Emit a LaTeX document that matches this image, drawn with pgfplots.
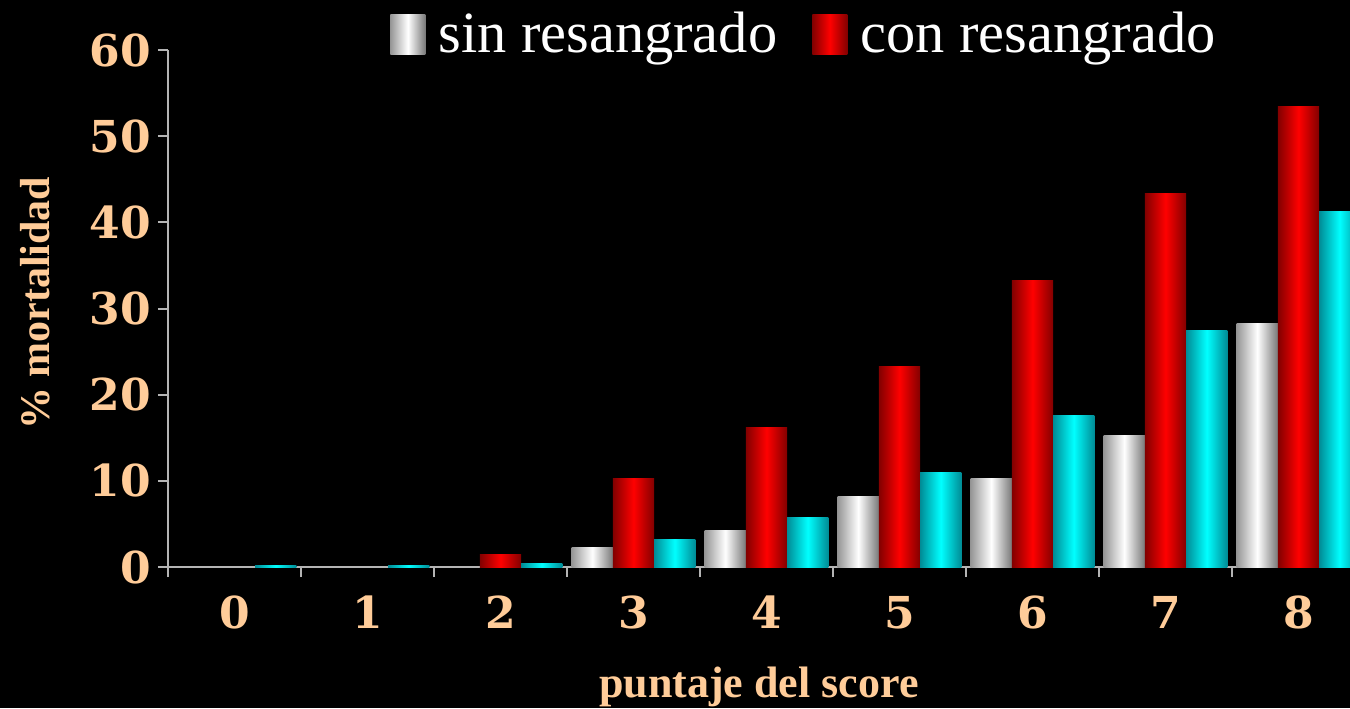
\documentclass[border=0pt]{standalone}
\usepackage{fontspec}
\setmainfont{Liberation Serif}
\newfontfamily\tickfont{DejaVu Serif}
\usepackage{pgfplots}
\pgfplotsset{compat=1.18}
\definecolor{peach}{RGB}{255,204,153}
\definecolor{axgray}{RGB}{180,180,180}
\definecolor{cyanmid}{RGB}{0,255,255}
\definecolor{cyanedge}{RGB}{0,140,150}
\definecolor{redmid}{RGB}{255,0,0}
\definecolor{rededge}{RGB}{130,0,0}
\definecolor{wleft}{RGB}{150,150,150}
\definecolor{wright}{RGB}{120,120,120}
\pgfplotsset{
  whitebar/.style={draw=none, bar shift=-0.31, left color=wleft, right color=wright, middle color=white, forget plot},
  redbar/.style={draw=none, bar shift=0, left color=rededge, right color=rededge, middle color=redmid, forget plot},
  cyanbar/.style={draw=none, bar shift=0.31, left color=cyanedge, right color=cyanedge, middle color=cyanmid, forget plot},
}
\begin{document}
\begin{tikzpicture}
\fill[black] (-84pt,-70.5pt) rectangle (591pt,283.5pt);
\begin{axis}[
  at={(0pt,0pt)}, anchor=south west,
  scale only axis, width=591pt, height=258.5pt,
  xmin=-0.5, xmax=8.387, ymin=0, ymax=60,
  axis x line*=bottom, axis y line*=left,
  axis line style={draw=axgray, line width=1pt},
  tick style={draw=axgray, line width=1pt},
  tick align=outside, major tick length=5pt,
  ytick={0,10,...,60},
  /pgf/number format/assume math mode=true,
  tick label style={font=\tickfont\bfseries\fontsize{22}{22}\selectfont, text=peach},
  xtick={-0.5,0.5,...,7.5}, xticklabels={},
  extra x ticks={0,1,2,3,4,5,6,7,8},
  extra x tick labels={0,1,2,3,4,5,6,7,8},
  extra x tick style={major tick length=0pt, xticklabel style={yshift=-11pt}},
  xlabel={puntaje del score},
  xlabel style={font=\bfseries\fontsize{22}{22}\selectfont, text=peach, at={(axis description cs:0.5,0)}, anchor=center, yshift=-60pt},
  ylabel={\% mortalidad},
  ylabel style={font=\bfseries\fontsize{21}{21}\selectfont, text=peach, at={(axis description cs:-0.1125,0.51)}, anchor=center},
  ybar, bar width=0.31,
  legend columns=2,
  legend style={draw=none, fill=none, text=white, font=\fontsize{29.2}{31}\selectfont,
    at={(rel axis cs:0,1)}, anchor=west, xshift=108pt, yshift=8pt,
    /tikz/every odd column/.append style={column sep=4.5pt},
    /tikz/every even column/.append style={column sep=15.5pt}},
  legend image code/.code={\path[#1,draw=none] (0pt,-10pt) rectangle (17.5pt,10pt);},
  clip=true,
]
\addlegendimage{whitebar}
\addlegendentry{sin resangrado}
\addlegendimage{redbar}
\addlegendentry{con resangrado}
% sin resangrado (white)
\addplot[whitebar] coordinates {(3,2.3)};
\addplot[whitebar] coordinates {(4,4.2)};
\addplot[whitebar] coordinates {(5,8.2)};
\addplot[whitebar] coordinates {(6,10.3)};
\addplot[whitebar] coordinates {(7,15.3)};
\addplot[whitebar] coordinates {(8,28.3)};
% con resangrado (red)
\addplot[redbar] coordinates {(2,1.4)};
\addplot[redbar] coordinates {(3,10.3)};
\addplot[redbar] coordinates {(4,16.2)};
\addplot[redbar] coordinates {(5,23.3)};
\addplot[redbar] coordinates {(6,33.2)};
\addplot[redbar] coordinates {(7,43.4)};
\addplot[redbar] coordinates {(8,53.4)};
% third series (cyan)
\addplot[cyanbar] coordinates {(0,0.15)};
\addplot[cyanbar] coordinates {(1,0.15)};
\addplot[cyanbar] coordinates {(2,0.4)};
\addplot[cyanbar] coordinates {(3,3.2)};
\addplot[cyanbar] coordinates {(4,5.7)};
\addplot[cyanbar] coordinates {(5,11.0)};
\addplot[cyanbar] coordinates {(6,17.6)};
\addplot[cyanbar] coordinates {(7,27.4)};
\addplot[cyanbar] coordinates {(8,41.3)};
\end{axis}
\pgfresetboundingbox
\path[use as bounding box] (-84pt,-70.5pt) rectangle (591pt,283.5pt);
\end{tikzpicture}
\end{document}
